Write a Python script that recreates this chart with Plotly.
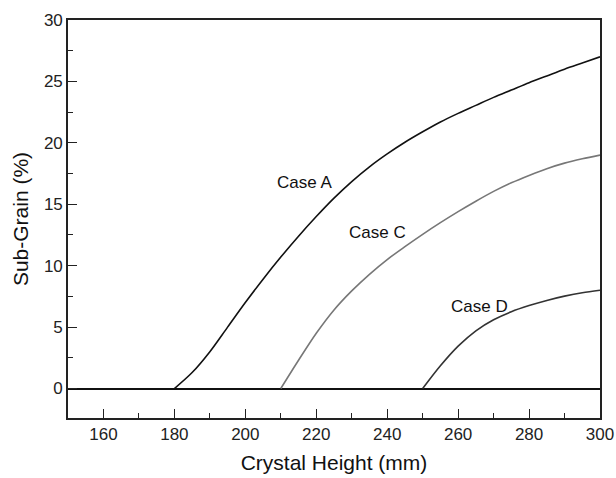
import plotly.graph_objects as go

# Crystal height (mm) and sub-grain (%)
case_a_x = [180, 185, 190, 195, 200, 205, 210, 215, 220, 225, 230, 235, 240, 245, 250, 255, 260,
            265, 270, 275, 280, 285, 290, 295, 300]
case_a_y = [0, 1.3, 3.0, 5.0, 7.0, 8.9, 10.7, 12.4, 14.0, 15.5, 16.85, 18.05, 19.1, 20.05, 20.9, 21.7, 22.4,
            23.05, 23.7, 24.3, 24.9, 25.45, 26.0, 26.5, 27.0]

case_c_x = [210, 215, 220, 225, 230, 235, 240, 245, 250, 255, 260, 265, 270, 275, 280, 285, 290, 295, 300]
case_c_y = [0, 2.3, 4.5, 6.4, 7.95, 9.3, 10.5, 11.55, 12.55, 13.5, 14.4, 15.25, 16.05, 16.75, 17.35, 17.9,
            18.35, 18.7, 19.0]

case_d_x = [250, 255, 260, 265, 270, 275, 280, 285, 290, 295, 300]
case_d_y = [0, 1.85, 3.45, 4.7, 5.6, 6.25, 6.75, 7.17, 7.52, 7.8, 8.0]

labels = ["Case A", "Case C", "Case D"]
label_x = [216.7, 237.3, 266.0]
label_y = [16.8, 12.7, 6.7]

x_ticks = [160, 180, 200, 220, 240, 260, 280, 300]
y_ticks = [0, 5, 10, 15, 20, 25, 30]

series = [
    (case_a_x, case_a_y, "#111111"),
    (case_c_x, case_c_y, "#777777"),
    (case_d_x, case_d_y, "#333333"),
]

FONT = "Liberation Sans, Arial, sans-serif"

fig = go.Figure()
for (xs, ys, col), name in zip(series, labels):
    fig.add_trace(go.Scatter(x=xs, y=ys, mode="lines", name=name,
                             line=dict(color=col, width=1.6, shape="spline", smoothing=0.9),
                             showlegend=False))

for t, lx, ly in zip(labels, label_x, label_y):
    fig.add_annotation(x=lx, y=ly, text=t, showarrow=False,
                       font=dict(family=FONT, size=17, color="#111"))

axis_font = dict(family=FONT, size=17, color="#222")
title_font = dict(family=FONT, size=21, color="#111")

fig.update_layout(
    width=616, height=478,
    margin=dict(l=68, r=16, t=20, b=60),
    paper_bgcolor="white", plot_bgcolor="white",
    xaxis=dict(range=[150, 300], tickvals=x_ticks, ticks="inside", ticklen=9, tickwidth=1.3,
               tickcolor="#222", showgrid=False, zeroline=False, automargin=False,
               showline=True, linecolor="#222", linewidth=1.6, mirror=True,
               tickfont=axis_font, title=dict(text="Crystal Height (mm)", font=title_font, standoff=12),
               minor=dict(dtick=10, tick0=150, ticks="inside", ticklen=5, tickwidth=1.3, tickcolor="#222", showgrid=False)),
    yaxis=dict(range=[-2.4, 30], tickvals=y_ticks, ticks="inside", ticklen=9, tickwidth=1.3,
               tickcolor="#222", showgrid=False, automargin=False,
               zeroline=True, zerolinecolor="#111", zerolinewidth=1.6,
               showline=True, linecolor="#222", linewidth=1.6, mirror=True,
               tickfont=axis_font, title=dict(text="Sub-Grain (%)", font=title_font, standoff=10),
               minor=dict(dtick=2.5, tick0=0, ticks="inside", ticklen=5, tickwidth=1.3, tickcolor="#222", showgrid=False)),
)

fig.write_html("out.html", config={"displayModeBar": False},
               post_script="document.body.style.margin='0';document.body.style.overflow='hidden';")
